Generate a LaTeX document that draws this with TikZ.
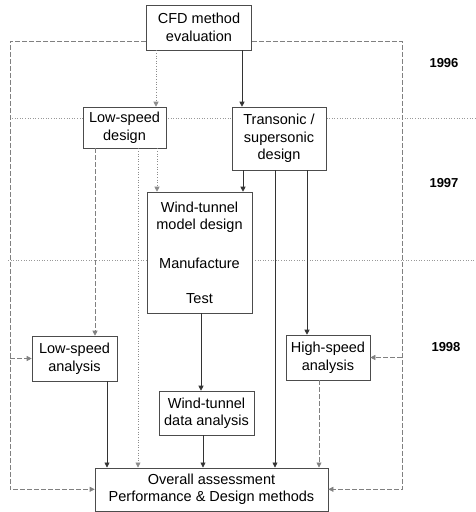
\documentclass[tikz,border=0pt]{standalone}
\usepackage{fontspec}
\setmainfont{Liberation Sans}
\usetikzlibrary{arrows.meta, backgrounds}

\begin{document}
\begin{tikzpicture}[x=1pt, y=-1pt,
    box/.style={draw=black!70, line width=0.6pt, fill=white, align=center,
      inner sep=0pt, font=\fontsize{14.5}{17.5}\selectfont},
    year/.style={font=\fontsize{13}{15}\selectfont\bfseries},
    arr/.style={-{Triangle[length=5pt, width=5pt]}, line width=0.6pt},
    solidln/.style={arr, black!80},
    dotln/.style={arr, black!45, dotted},
    dashln/.style={arr, black!50, dash pattern=on 5pt off 2pt},
    sep/.style={black!40, dotted, line width=0.6pt}
  ]
  \useasboundingbox (0,0) rectangle (476,512);

  \node[box, minimum width=105pt, minimum height=45pt] (cfd) at (199,27.5) {CFD method\\evaluation};
  \node[box, minimum width=83pt, minimum height=41pt] (lsd) at (124.5,127.5) {Low-speed\\design};
  \node[box, minimum width=94pt, minimum height=63pt] (tsd) at (279,138.5) {Transonic /\\supersonic\\design};
  \node[box, minimum width=105pt, minimum height=121pt] (wtm) at (199.5,252.5) {Wind-tunnel\\model design\\[21pt]Manufacture\\[17.5pt]Test};
  \node[box, minimum width=85pt, minimum height=45pt] (lsa) at (74.5,358.5) {Low-speed\\analysis};
  \node[box, minimum width=95pt, minimum height=44pt] (wtd) at (206.5,413) {Wind-tunnel\\data analysis};
  \node[box, minimum width=84pt, minimum height=45pt] (hsa) at (328,357.5) {High-speed\\analysis};
  \node[box, minimum width=233pt, minimum height=43pt] (oa) at (211.5,489.3) {Overall assessment\\Performance \& Design methods};

  \node[year] (y96) at (444,63) {1996};
  \node[year] (y97) at (444,183) {1997};
  \node[year] (y98) at (446,347) {1998};

  % outer feedback rails
  \coordinate (lrail) at (10,41);
  \coordinate (rrail) at (402,41);
  \draw[dashln] (lrail -| cfd.west) -- (lrail) -- (lrail |- oa.west) -- (oa.west);
  \draw[dashln] (lrail |- lsa.west) -- (lsa.west);
  \draw[dashln] (rrail -| cfd.east) -- (rrail) -- (rrail |- oa.east) -- (oa.east);
  \draw[dashln] (rrail |- hsa.east) -- (hsa.east);

  \draw[dotln] (156,0 |- cfd.south) -- (156,0 |- lsd.north);
  \draw[solidln] (242,0 |- cfd.south) -- (242,0 |- tsd.north);
  \draw[dashln] (95,0 |- lsd.south) -- (95,0 |- lsa.north);
  \draw[dotln] (157,0 |- lsd.south) -- (157,0 |- wtm.north);
  \draw[dotln] (138,0 |- lsd.south) -- (138,0 |- oa.north);
  \draw[solidln] (243,0 |- tsd.south) -- (243,0 |- wtm.north);
  \draw[solidln] (275,0 |- tsd.south) -- (275,0 |- oa.north);
  \draw[solidln] (307,0 |- tsd.south) -- (307,0 |- hsa.north);
  \draw[solidln] (201,0 |- wtm.south) -- (201,0 |- wtd.north);
  \draw[solidln] (107,0 |- lsa.south) -- (107,0 |- oa.north);
  \draw[solidln] (203,0 |- wtd.south) -- (203,0 |- oa.north);
  \draw[dashln] (319,0 |- hsa.south) -- (319,0 |- oa.north);

  % year boundaries
  \begin{scope}[on background layer]
    \draw[sep] (12,118) -- (476,118);
    \draw[sep] (8,260) -- (476,260);
  \end{scope}
\end{tikzpicture}
\end{document}
